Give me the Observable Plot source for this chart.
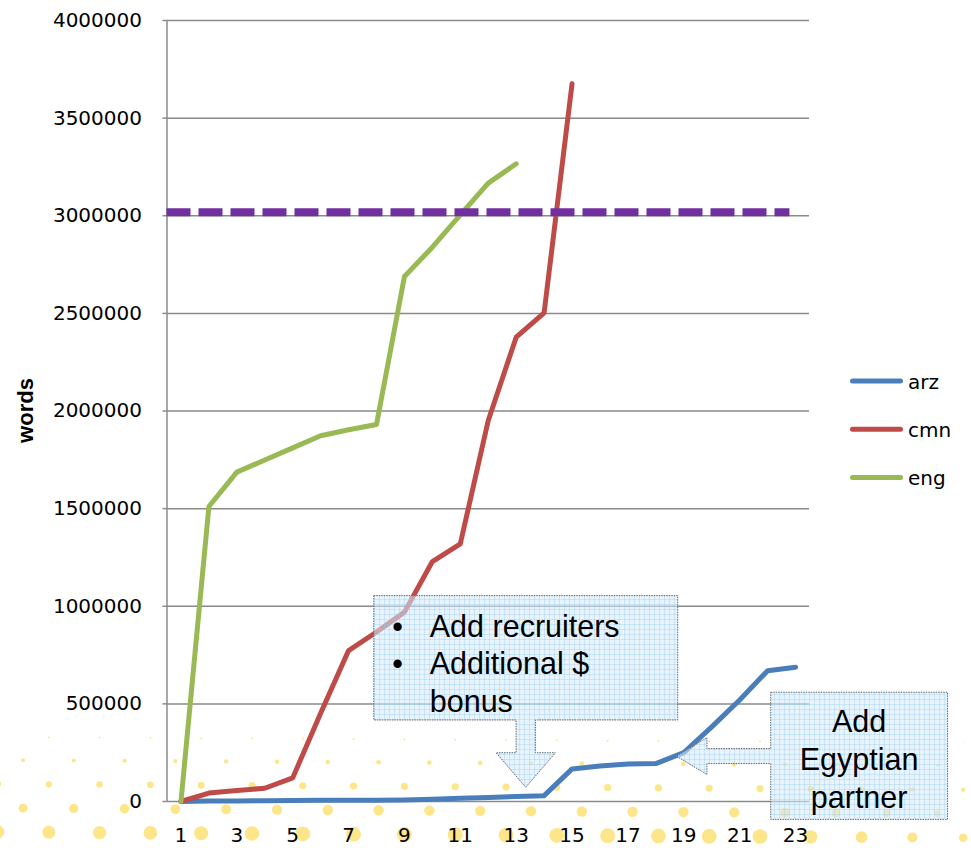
<!DOCTYPE html>
<html>
<head>
<meta charset="utf-8">
<script src="https://cdn.jsdelivr.net/npm/d3@7"></script>
<script src="https://cdn.jsdelivr.net/npm/@observablehq/plot@0.6"></script>
<style>
  html, body { margin: 0; padding: 0; background: #fff; }
  #wrap { position: relative; width: 971px; height: 848px; overflow: hidden; }
  #dots, #legend { position: absolute; left: 0; top: 0; }
  #chart { position: absolute; left: 0; top: 0; }
</style>
</head>
<body>
<div id="wrap">
  <svg id="dots" width="971" height="848"></svg>
  <div id="chart"></div>
  <svg id="legend" width="971" height="848" style="pointer-events:none"></svg>
</div>
<script>
// Collection periods (x categories)
const periods = [1, 2, 3, 4, 5, 6, 7, 8, 9, 10, 11, 12, 13, 14, 15, 16, 17, 18, 19, 20, 21, 22, 23];
const xTickLabels = [1, 3, 5, 7, 9, 11, 13, 15, 17, 19, 21, 23];
const yTickValues = [0, 500000, 1000000, 1500000, 2000000, 2500000, 3000000, 3500000, 4000000];

// Cumulative words collected per language
const languages = ["arz", "cmn", "eng"];
const lineColors = ["#4a7ebb", "#be4b48", "#98b954"];
const arzWords = [0, 2000, 3000, 4000, 5000, 6000, 7000, 7000, 8000, 12000, 17000, 21000, 25000, 30000,
                  167000, 182000, 192000, 194000, 250000, 382000, 520000, 670000, 688000];
const cmnWords = [0, 43000, 56000, 68000, 121000, 452000, 773000, 868000, 970000, 1229000, 1320000,
                  1951000, 2378000, 2503000, 3676000];
const engWords = [0, 1511000, 1687000, 1749000, 1811000, 1873000, 1904000, 1931000, 2689000,
                  2839000, 3005000, 3167000, 3266000];

// Collection target (dashed line)
const targetWords = 3018000;
const targetFrom = 0.5;
const targetTo = 22.8;

// Callout annotations
const recruiterNotes = ["Add recruiters", "Additional $", "bonus"];
const recruiterBullets = [true, true, false];
const egyptNotes = ["Add", "Egyptian", "partner"];

const seriesWords = [arzWords, cmnWords, engWords];
const rows = languages.flatMap((lang, i) =>
  seriesWords[i].map((w, j) => ({period: periods[j], words: w, lang}))
);
const targetRows = [{words: targetWords, from: targetFrom, to: targetTo}];

const chart = Plot.plot({
  width: 971,
  height: 848,
  marginLeft: 166.5,
  marginRight: 162,
  marginTop: 20,
  marginBottom: 47,
  style: {background: "transparent", fontFamily: "DejaVu Sans, sans-serif", fontSize: "20px", color: "#000", overflow: "visible"},
  x: {type: "linear", domain: [0.5, 23.5]},
  y: {type: "linear", domain: [0, 4000000]},
  color: {domain: languages, range: lineColors},
  marks: [
    Plot.gridY(yTickValues, {stroke: "#8a8a8a", strokeOpacity: 1, strokeWidth: 1.5}),
    Plot.ruleX([0.5], {stroke: "#8a8a8a", strokeWidth: 1.5}),
    Plot.axisY(yTickValues, {
      tickSize: 4, tickPadding: 21, stroke: "#8a8a8a", strokeWidth: 1.5,
      fill: "#000", fontSize: 20, label: null, tickFormat: d3.format("d")
    }),
    Plot.axisX(xTickLabels, {
      tickSize: 0, tickPadding: 26, fill: "#000", fontSize: 20, label: null, tickFormat: d3.format("d")
    }),
    Plot.line(rows, {
      x: "period", y: "words", z: "lang", stroke: "lang",
      strokeWidth: 5, strokeLinejoin: "round", strokeLinecap: "round"
    }),
    Plot.ruleY(targetRows, {
      y: "words", x1: "from", x2: "to",
      stroke: "#7030a0", strokeWidth: 8, strokeDasharray: "24,8"
    })
  ]
});
document.getElementById("chart").appendChild(chart);

// Scales reconstructed from the plot for annotations
const xs = chart.scale("x"), ys = chart.scale("y");
const X = d3.scaleLinear(xs.domain, xs.range);
const Y = d3.scaleLinear(ys.domain, ys.range);

const svg = d3.select(chart);

// Y axis title
svg.append("text")
  .attr("transform", `translate(33,${(Y(0) + Y(4000000)) / 2}) rotate(-90)`)
  .attr("text-anchor", "middle")
  .attr("font-family", "Liberation Sans, Arial, sans-serif")
  .attr("font-weight", "bold")
  .attr("font-size", 22)
  .attr("fill", "#000")
  .text("words");

// Callout fill pattern
const defs = svg.append("defs");
const pat = defs.append("pattern")
  .attr("id", "calloutGrid")
  .attr("width", 5).attr("height", 5)
  .attr("patternUnits", "userSpaceOnUse");
pat.append("rect").attr("width", 5).attr("height", 5).attr("fill", "rgba(212,235,252,0.55)");
pat.append("path").attr("d", "M4.5 0V5M0 4.5H5")
  .attr("stroke", "rgba(150,200,238,0.35)").attr("stroke-width", 1).attr("fill", "none");

const calloutStyle = sel => sel
  .attr("fill", "url(#calloutGrid)")
  .attr("stroke", "#666")
  .attr("stroke-width", 1)
  .attr("stroke-dasharray", "1.5,1");

// Callout 1: box with a downward arrow to the arz line
{
  const L = X(7.92), R = X(18.8), T = Y(1052000), B = Y(415000);
  const tx = X(13.36), ty = Y(70000);
  const sw = 9.65, hw = 29.65, hl = 34.6;
  const hy = ty - hl;
  const d = `M${L},${T}H${R}V${B}H${tx + sw}V${hy}H${tx + hw}L${tx},${ty}L${tx - hw},${hy}H${tx - sw}V${B}H${L}Z`;
  svg.append("path").attr("d", d).call(calloutStyle);
  const g = svg.append("g")
    .attr("font-family", "Liberation Sans, Arial, sans-serif")
    .attr("font-size", 30.5).attr("fill", "#000").attr("text-anchor", "start");
  recruiterNotes.forEach((s, i) => {
    const by = T + 41 + i * 37.5;
    if (recruiterBullets[i]) g.append("text").attr("x", L + 18.5).attr("y", by).text("•");
    g.append("text").attr("x", L + 56).attr("y", by).text(s);
  });
}

// Callout 2: box with a leftward arrow to the arz line
{
  const L = X(22.13), R = X(28.46), T = Y(557000), B = Y(-94000);
  const tx = X(18.75), ty = Y(230000);
  const sh = 7.5, hh = 18.4, hl = 30.6;
  const hx = tx + hl;
  const d = `M${L},${T}H${R}V${B}H${L}V${ty + sh}H${hx}V${ty + hh}L${tx},${ty}L${hx},${ty - hh}V${ty - sh}H${L}Z`;
  svg.append("path").attr("d", d).call(calloutStyle);
  const g = svg.append("g")
    .attr("font-family", "Liberation Sans, Arial, sans-serif")
    .attr("font-size", 30.5).attr("fill", "#000").attr("text-anchor", "middle");
  egyptNotes.forEach((s, i) => g.append("text").attr("x", (L + R) / 2).attr("y", T + 39.5 + i * 38.2).text(s));
}

// Legend
{
  const lg = d3.select("#legend");
  languages.forEach((lang, i) => {
    const cy = 381 + i * 48.2;
    lg.append("line").attr("x1", 852.5).attr("x2", 900.5).attr("y1", cy).attr("y2", cy)
      .attr("stroke", lineColors[i]).attr("stroke-width", 5).attr("stroke-linecap", "round");
    lg.append("text").attr("x", 908).attr("y", cy + 7.5)
      .attr("font-family", "DejaVu Sans, sans-serif").attr("font-size", 20).attr("fill", "#000")
      .text(lang);
  });
}

// Decorative halftone dots along the bottom edge
{
  const dots = d3.select("#dots");
  const rowSpecs = [
    {y: 737, r: 1.0, shift: -2},
    {y: 760, r: 2.3, shift: 23},
    {y: 784, r: 3.6, shift: -2},
    {y: 808, r: 5.2, shift: 23},
    {y: 832, r: 7.4, shift: -2},
    {y: 856, r: 9.0, shift: 23}
  ];
  const step = 50.8;
  rowSpecs.forEach(row => {
    for (let cx = row.shift; cx < 990; cx += step) {
      const left = 0.85 + 0.15 * Math.min(1, Math.max(0, cx) / 300);
      const right = 1 - 0.45 * Math.min(1, Math.max(0, cx - 760) / 220);
      dots.append("circle")
        .attr("cx", cx).attr("cy", row.y + cx * 0.006)
        .attr("r", row.r * left * right)
        .attr("fill", "#fde68a");
    }
  });
}
</script>
</body>
</html>
